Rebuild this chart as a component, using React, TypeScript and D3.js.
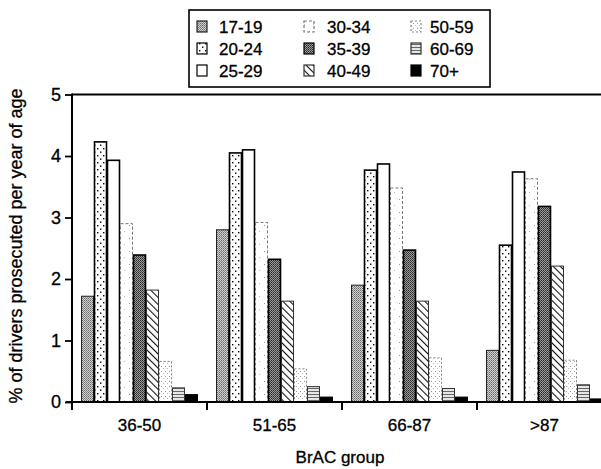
import { useEffect, useRef } from 'react';
import * as d3 from 'd3';

// BrAC groups (x axis) and driver age bands (series)
const groups = ['36-50', '51-65', '66-87', '>87'];
const ageBands = ['17-19', '20-24', '25-29', '30-34', '35-39', '40-49', '50-59', '60-69', '70+'];

// % of drivers prosecuted per year of age, one array per BrAC group (in ageBands order)
const rates3650 = [1.72, 4.23, 3.93, 2.9, 2.39, 1.82, 0.66, 0.23, 0.12];
const rates5165 = [2.8, 4.05, 4.1, 2.92, 2.32, 1.64, 0.54, 0.25, 0.08];
const rates6687 = [1.9, 3.77, 3.87, 3.48, 2.47, 1.64, 0.72, 0.22, 0.08];
const ratesOver87 = [0.84, 2.55, 3.74, 3.63, 3.18, 2.21, 0.68, 0.28, 0.05];

const yTicks = [0, 1, 2, 3, 4, 5];

const W = 601;
const H = 469;
const FONT = "'Liberation Sans', Arial, Helvetica, sans-serif";

// fill + outline for each age band
const bandStyle: Record<string, { fill: string; stroke: string; width: number; dash?: string }> = {
  '17-19': { fill: 'url(#p1719)', stroke: '#222', width: 1 },
  '20-24': { fill: 'url(#p2024)', stroke: '#000', width: 1.6 },
  '25-29': { fill: '#fff', stroke: '#000', width: 1.6 },
  '30-34': { fill: 'url(#p3034)', stroke: '#777', width: 1, dash: '3,2' },
  '35-39': { fill: 'url(#p3539)', stroke: '#000', width: 1.6 },
  '40-49': { fill: 'url(#p4049)', stroke: '#333', width: 1 },
  '50-59': { fill: 'url(#p5059)', stroke: '#888', width: 1, dash: '2,2' },
  '60-69': { fill: 'url(#p6069)', stroke: '#333', width: 1 },
  '70+': { fill: '#000', stroke: '#000', width: 1 },
};

const App = () => {
  const svgRef = useRef<SVGSVGElement>(null);

  useEffect(() => {
    const svg = d3.select(svgRef.current);
    svg.selectAll('*').remove();

    const table = [rates3650, rates5165, rates6687, ratesOver87];
    const data = groups.map((g, i) => ({
      group: g,
      values: ageBands.map((a, j) => ({ band: a, value: table[i][j] })),
    }));

    const x0 = d3.scaleBand().domain(groups).range([72, 612]).padding(0);
    const x1 = d3.scaleBand().domain(ageBands).range([9, 126]).padding(0);
    const y = d3.scaleLinear().domain([0, 5]).range([402, 94.5]);

    // patterns
    const defs = svg.append('defs');
    const p1 = defs.append('pattern').attr('id', 'p1719').attr('patternUnits', 'userSpaceOnUse').attr('width', 2).attr('height', 2);
    p1.append('rect').attr('width', 2).attr('height', 2).attr('fill', '#cfcfcf');
    p1.append('rect').attr('width', 1).attr('height', 1).attr('fill', '#6a6a6a');
    p1.append('rect').attr('x', 1).attr('y', 1).attr('width', 1).attr('height', 1).attr('fill', '#8a8a8a');

    const p2 = defs.append('pattern').attr('id', 'p2024').attr('patternUnits', 'userSpaceOnUse').attr('width', 6).attr('height', 7);
    p2.append('rect').attr('width', 6).attr('height', 7).attr('fill', '#fff');
    p2.append('rect').attr('x', 1).attr('y', 1).attr('width', 1.4).attr('height', 1.4).attr('fill', '#000');
    p2.append('rect').attr('x', 4).attr('y', 4.5).attr('width', 1.4).attr('height', 1.4).attr('fill', '#000');

    const p3 = defs.append('pattern').attr('id', 'p3034').attr('patternUnits', 'userSpaceOnUse').attr('width', 9).attr('height', 13);
    p3.append('rect').attr('width', 9).attr('height', 13).attr('fill', '#fff');
    p3.append('rect').attr('x', 3).attr('y', 4).attr('width', 1).attr('height', 1).attr('fill', '#999');
    p3.append('rect').attr('x', 7).attr('y', 10).attr('width', 1).attr('height', 1).attr('fill', '#bbb');

    const p4 = defs.append('pattern').attr('id', 'p3539').attr('patternUnits', 'userSpaceOnUse').attr('width', 2).attr('height', 2);
    p4.append('rect').attr('width', 2).attr('height', 2).attr('fill', '#9a9a9a');
    p4.append('rect').attr('width', 1).attr('height', 1).attr('fill', '#2a2a2a');
    p4.append('rect').attr('x', 1).attr('y', 1).attr('width', 1).attr('height', 1).attr('fill', '#444');

    const p5 = defs.append('pattern').attr('id', 'p4049').attr('patternUnits', 'userSpaceOnUse').attr('width', 5).attr('height', 5).attr('patternTransform', 'rotate(-45)');
    p5.append('rect').attr('width', 5).attr('height', 5).attr('fill', '#fff');
    p5.append('line').attr('x1', 0).attr('x2', 0).attr('y1', 0).attr('y2', 5).attr('stroke', '#111').attr('stroke-width', 2.2);

    const p6 = defs.append('pattern').attr('id', 'p5059').attr('patternUnits', 'userSpaceOnUse').attr('width', 4).attr('height', 5);
    p6.append('rect').attr('width', 4).attr('height', 5).attr('fill', '#fff');
    p6.append('rect').attr('x', 1).attr('y', 1).attr('width', 1).attr('height', 1).attr('fill', '#999');
    p6.append('rect').attr('x', 3).attr('y', 3).attr('width', 1).attr('height', 1).attr('fill', '#bbb');

    const p7 = defs.append('pattern').attr('id', 'p6069').attr('patternUnits', 'userSpaceOnUse').attr('width', 4).attr('height', 3);
    p7.append('rect').attr('width', 4).attr('height', 3).attr('fill', '#e6e6e6');
    p7.append('rect').attr('y', 1).attr('width', 4).attr('height', 1).attr('fill', '#666');

    // bars
    const gGroups = svg
      .append('g')
      .selectAll('g')
      .data(data)
      .enter()
      .append('g')
      .attr('transform', (d) => `translate(${x0(d.group)},0)`);

    gGroups
      .selectAll('rect')
      .data((d) => d.values)
      .enter()
      .append('rect')
      .attr('x', (d) => x1(d.band)! + 0.5)
      .attr('y', (d) => y(d.value))
      .attr('width', x1.bandwidth() - 1)
      .attr('height', (d) => y(0) - y(d.value))
      .attr('fill', (d) => bandStyle[d.band].fill)
      .attr('stroke', (d) => bandStyle[d.band].stroke)
      .attr('stroke-width', (d) => bandStyle[d.band].width)
      .attr('stroke-dasharray', (d) => bandStyle[d.band].dash || null);

    // frame top line
    svg.append('line').attr('x1', 72).attr('x2', W).attr('y1', y(5)).attr('y2', y(5)).attr('stroke', '#000').attr('stroke-width', 2);

    // y axis
    const yAxis = svg
      .append('g')
      .attr('transform', 'translate(72,0)')
      .call(d3.axisLeft(y).tickValues(yTicks).tickSize(7).tickPadding(4).tickFormat(d3.format('d')));
    yAxis.select('.domain').remove();
    yAxis.selectAll('line').attr('stroke', '#000').attr('stroke-width', 1.8);
    yAxis
      .selectAll('text')
      .attr('font-family', FONT)
      .attr('font-size', 18)
      .attr('fill', '#000')
      .attr('stroke', '#000')
      .attr('stroke-width', 0.3);
    svg.append('line').attr('x1', 72).attr('x2', 72).attr('y1', y(5) - 1).attr('y2', 410).attr('stroke', '#000').attr('stroke-width', 2);

    // x axis
    svg.append('line').attr('x1', 66).attr('x2', W).attr('y1', y(0)).attr('y2', y(0)).attr('stroke', '#000').attr('stroke-width', 2);
    svg
      .append('g')
      .selectAll('line')
      .data(groups)
      .enter()
      .append('line')
      .attr('x1', (d) => x0(d)!)
      .attr('x2', (d) => x0(d)!)
      .attr('y1', y(0))
      .attr('y2', 410)
      .attr('stroke', '#000')
      .attr('stroke-width', 2);

    const xAxis = svg
      .append('g')
      .attr('transform', `translate(0,${y(0)})`)
      .call(d3.axisBottom(x0).tickSize(0).tickPadding(17));
    xAxis.select('.domain').remove();
    xAxis
      .selectAll('text')
      .attr('font-family', FONT)
      .attr('font-size', 17)
      .attr('fill', '#000')
      .attr('stroke', '#000')
      .attr('stroke-width', 0.3);

    // axis titles
    svg
      .append('text')
      .attr('x', 340)
      .attr('y', 463)
      .attr('text-anchor', 'middle')
      .attr('font-family', FONT)
      .attr('font-size', 17)
      .attr('stroke', '#000')
      .attr('stroke-width', 0.3)
      .text('BrAC group');

    svg
      .append('text')
      .attr('transform', 'translate(22,246) rotate(-90)')
      .attr('text-anchor', 'middle')
      .attr('font-family', FONT)
      .attr('font-size', 18)
      .attr('stroke', '#000')
      .attr('stroke-width', 0.3)
      .text('% of drivers prosecuted per year of age');

    // legend
    const legend = svg.append('g');
    legend
      .append('rect')
      .attr('x', 189)
      .attr('y', 10)
      .attr('width', 301)
      .attr('height', 77)
      .attr('fill', '#fff')
      .attr('stroke', '#000')
      .attr('stroke-width', 1.6);

    const colSwatch = [197, 304, 411];
    const colText = [219, 327, 430];
    const rowY = [27, 49, 71];
    const items = legend
      .selectAll('g.item')
      .data(ageBands)
      .enter()
      .append('g')
      .attr('class', 'item')
      .attr('transform', (_d, i) => `translate(0,${rowY[i % 3]})`);

    items
      .append('rect')
      .attr('x', (_d, i) => colSwatch[Math.floor(i / 3)])
      .attr('y', -6)
      .attr('width', 10)
      .attr('height', 11)
      .attr('fill', (d) => bandStyle[d].fill)
      .attr('stroke', (d) => bandStyle[d].stroke)
      .attr('stroke-width', 1.2)
      .attr('stroke-dasharray', (d) => bandStyle[d].dash || null);

    items
      .append('text')
      .attr('x', (_d, i) => colText[Math.floor(i / 3)])
      .attr('y', 6)
      .attr('font-family', FONT)
      .attr('font-size', 17)
      .attr('stroke', '#000')
      .attr('stroke-width', 0.3)
      .text((d) => d);
  }, []);

  return (
    <div style={{ position: 'absolute', left: 0, top: 0 }}>
      <svg ref={svgRef} width={W} height={H} style={{ display: 'block', background: '#fff' }}></svg>
    </div>
  );
};

export default App;
